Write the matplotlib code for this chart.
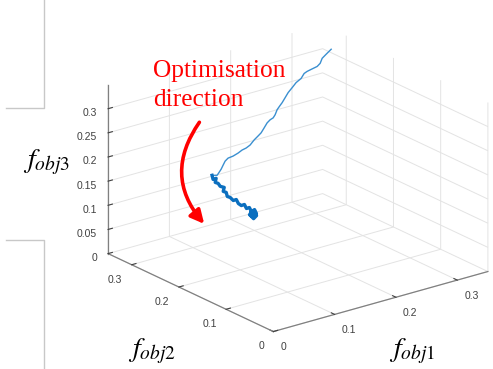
import numpy as np
import matplotlib.pyplot as plt
from matplotlib.lines import Line2D
from matplotlib.patches import FancyArrowPatch

# objective values along the optimisation run
f_obj1 = [0.3254, 0.3149, 0.3061, 0.3005, 0.2933, 0.2811, 0.2723, 0.2651, 0.2579, 0.2474,
          0.2387, 0.2298, 0.2226, 0.2154, 0.2082, 0.2026, 0.1970, 0.1915, 0.1843, 0.1770,
          0.1698, 0.1626, 0.1554, 0.1466, 0.1377, 0.1289, 0.1200, 0.1111, 0.1007, 0.0902,
          0.0831, 0.0775, 0.0720, 0.0664, 0.0608,
          0.0510, 0.0511, 0.0546, 0.0515, 0.0548, 0.0566, 0.0616, 0.0584, 0.0618, 0.0620,
          0.0652, 0.0687, 0.0721, 0.0739, 0.0772, 0.0807, 0.0825, 0.0857, 0.0875, 0.0910,
          0.0926, 0.0846, 0.0782, 0.0833, 0.0866, 0.0752, 0.0803]
f_obj2 = [0.300, 0.297, 0.294, 0.291, 0.288, 0.285, 0.282, 0.279, 0.276, 0.273,
          0.270, 0.267, 0.264, 0.261, 0.258, 0.255, 0.252, 0.249, 0.246, 0.243,
          0.240, 0.237, 0.234, 0.231, 0.228, 0.225, 0.222, 0.219, 0.216, 0.213,
          0.210, 0.207, 0.204, 0.201, 0.198,
          0.196, 0.194, 0.192, 0.190, 0.188, 0.186, 0.184, 0.182, 0.180, 0.178,
          0.176, 0.174, 0.172, 0.170, 0.168, 0.166, 0.164, 0.162, 0.160, 0.158,
          0.156, 0.154, 0.152, 0.150, 0.148, 0.146, 0.144]
f_obj3 = [0.3306, 0.3254, 0.3215, 0.3144, 0.3119, 0.3115, 0.3119, 0.3115, 0.3052, 0.3017,
          0.2958, 0.2900, 0.2835, 0.2771, 0.2725, 0.2698, 0.2627, 0.2596, 0.2596, 0.2571,
          0.2506, 0.2444, 0.2419, 0.2381, 0.2321, 0.2304, 0.2308, 0.2290, 0.2279, 0.2288,
          0.2265, 0.2215, 0.2165, 0.2135, 0.2106,
          0.2150, 0.2075, 0.2094, 0.2029, 0.2006, 0.1948, 0.1917, 0.1856, 0.1831, 0.1756,
          0.1733, 0.1667, 0.1685, 0.1604, 0.1560, 0.1579, 0.1498, 0.1517, 0.1435, 0.1473,
          0.1396, 0.1369, 0.1444, 0.1350, 0.1410, 0.1523, 0.1533]
n_converged = 35  # index where the run settles

ticks_xy = [0, 0.1, 0.2, 0.3]
ticks_z = [0, 0.05, 0.1, 0.15, 0.2, 0.25, 0.3]
lim = (0, 0.35)

plt.rcParams['font.family'] = 'Liberation Sans'
plt.rcParams['grid.color'] = '#e3e3e3'
plt.rcParams['grid.linewidth'] = 0.7
plt.rcParams['mathtext.fontset'] = 'stix'

W, H = 493, 369
fig = plt.figure(figsize=(W / 100, H / 100), dpi=100)
side = H / W
ax = fig.add_axes([(293 - 184.5) / W, 0.004, side, 1.0], projection='3d', proj_type='ortho')

f1 = np.array(f_obj1)
f2 = np.array(f_obj2)
f3 = np.array(f_obj3)
ax.plot(f1, f2, f3, color='#3a8fd0', lw=1.0)
ax.plot(f1[n_converged:], f2[n_converged:], f3[n_converged:], color='#0b6fbf', lw=2.4)

ax.set_xlim(lim)
ax.set_ylim(lim)
ax.set_zlim(lim)
ax.set_xticks(ticks_xy)
ax.set_yticks(ticks_xy)
ax.set_zticks(ticks_z)
ax.set_xticklabels(['0', '0.1', '0.2', '0.3'], ha='left')
ax.set_yticklabels(['0', '0.1', '0.2', '0.3'], ha='right')
ax.set_zticklabels(['0', '0.05', '0.1', '0.15', '0.2', '0.25', '0.3'], ha='right')
ax.view_init(elev=21.3, azim=-127.6)
ax.set_box_aspect((1, 1, 0.67), zoom=1.115)

for axis in (ax.xaxis, ax.yaxis, ax.zaxis):
    axis.set_pane_color((1, 1, 1, 0))
    axis.pane.set_edgecolor((1, 1, 1, 0))
    axis.line.set_color('#808080')
    axis.line.set_linewidth(0.9)
    axis._axinfo['tick']['inward_factor'] = 0.0
    axis._axinfo['tick']['outward_factor'] = 0.25
    axis._axinfo['tick']['color'] = '#808080'
ax.tick_params(labelsize=7.5, colors='#404040')
ax.tick_params(axis='x', pad=-2)
ax.tick_params(axis='y', pad=-2)
ax.tick_params(axis='z', pad=-4)

# axis labels
fig.text(46 / W, 1 - 162 / H, r'$f_{obj3}$', fontsize=20, ha='center', va='center')
fig.text(152 / W, 1 - 351 / H, r'$f_{obj2}$', fontsize=20, ha='center', va='center')
fig.text(412 / W, 1 - 351 / H, r'$f_{obj1}$', fontsize=20, ha='center', va='center')

# annotation
fig.text(153 / W, 1 - 60 / H, 'Optimisation\ndirection', color='red',
         family='Liberation Serif', fontsize=18.3, linespacing=1.42, ha='left', va='top')
arrow = FancyArrowPatch((201 / W, 1 - 120 / H), (206 / W, 1 - 226 / H),
                        transform=fig.transFigure, connectionstyle='arc3,rad=0.4',
                        arrowstyle='-|>', mutation_scale=20, lw=2.6, color='red')
fig.add_artist(arrow)

# frame edges of the neighbouring panels
for xs, ys in [([44, 44, 6], [0, 108, 108]), ([6, 44, 44], [240, 240, 369])]:
    fig.add_artist(Line2D(np.array(xs) / W, 1 - np.array(ys) / H,
                          transform=fig.transFigure, color='#c8c8c8', lw=1.0))

fig.savefig('out.png', dpi=100)
